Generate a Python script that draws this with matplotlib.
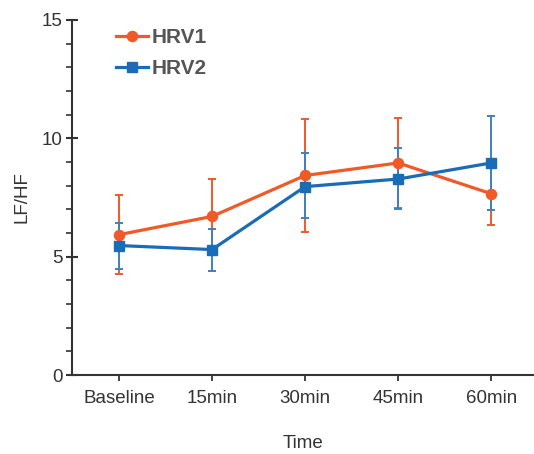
import matplotlib.pyplot as plt
from matplotlib.ticker import MultipleLocator

plt.rcParams['font.family'] = ['Liberation Sans', 'DejaVu Sans']

# donnees
temps = ["Baseline", "15min", "30min", "45min", "60min"]
hrv1 = [5.93, 6.70, 8.43, 8.96, 7.66]
hrv1_haut = [7.59, 8.29, 10.82, 10.88, 9.00]
hrv1_bas = [4.27, 5.11, 6.04, 7.04, 6.32]
hrv2 = [5.47, 5.30, 7.96, 8.28, 8.96]
hrv2_haut = [6.43, 6.17, 9.40, 9.59, 10.93]
hrv2_bas = [4.50, 4.40, 6.64, 7.02, 6.98]

orange = '#F05A28'
bleu = '#1B6CB7'
bleu_err = '#3F7FC5'
gris = '#333333'

fig = plt.figure(figsize=(5.34, 4.54), dpi=100)
ax = fig.add_axes([72/534, 79/454, 1 - 72/534, 355/454])

x = list(range(len(temps)))

# barres d'erreur (asymetriques)
err1 = [[m - b for m, b in zip(hrv1, hrv1_bas)], [h - m for m, h in zip(hrv1, hrv1_haut)]]
err2 = [[m - b for m, b in zip(hrv2, hrv2_bas)], [h - m for m, h in zip(hrv2, hrv2_haut)]]
ax.errorbar(x, hrv1, yerr=err1, fmt='none', ecolor=orange, elinewidth=1.4,
            capsize=3.2, capthick=1.4, zorder=2)
ax.errorbar(x, hrv2, yerr=err2, fmt='none', ecolor=bleu_err, elinewidth=1.4,
            capsize=3.2, capthick=1.4, zorder=2)

ax.plot(x, hrv1, color=orange, lw=2.3, marker='o', ms=7.3, label='HRV1', zorder=3)
ax.plot(x, hrv2, color=bleu, lw=2.3, marker='s', ms=6.8, label='HRV2', zorder=4)

ax.set_xlim(-0.505, 4.46)
ax.set_ylim(0, 15)
ax.set_xticks(x)
ax.set_xticklabels(temps)
ax.yaxis.set_major_locator(MultipleLocator(5))
ax.yaxis.set_minor_locator(MultipleLocator(1))

for s in ['top', 'right']:
    ax.spines[s].set_visible(False)
for s in ['left', 'bottom']:
    ax.spines[s].set_color(gris)
    ax.spines[s].set_linewidth(1.5)
ax.spines['left'].set_zorder(5)

ax.tick_params(axis='y', which='major', direction='inout', length=8, width=1.5,
               color=gris, labelsize=13.5, labelcolor=gris, pad=3)
ax.tick_params(axis='y', which='minor', direction='out', length=4, width=1.2, color=gris)
ax.tick_params(axis='x', which='major', direction='out', length=4, width=1.3,
               color=gris, labelsize=13.5, labelcolor=gris, pad=7)

ax.set_ylabel('LF/HF', fontsize=13.5, color=gris, labelpad=8)
ax.set_xlabel('Time', fontsize=13.5, color=gris, labelpad=20)

leg = ax.legend(loc='upper left', bbox_to_anchor=(0.055, 1.03), frameon=False,
                prop={'weight': 'bold', 'size': 15}, handlelength=1.55,
                handletextpad=0.15, labelspacing=0.58)
for t in leg.get_texts():
    t.set_color('#555555')

fig.savefig('out.png', dpi=100)
